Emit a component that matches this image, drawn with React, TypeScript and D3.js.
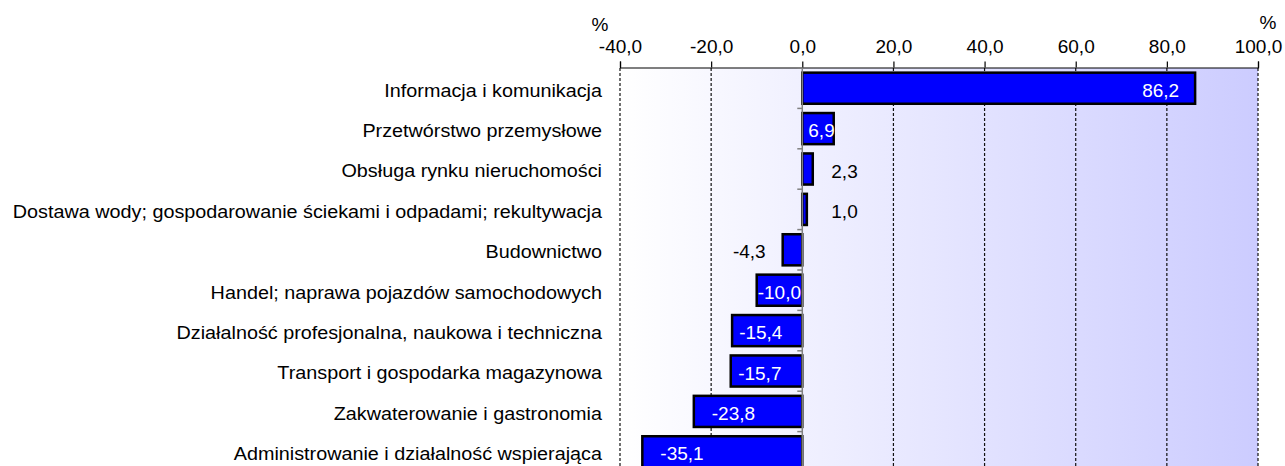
import React, { useRef, useEffect } from "react";
import * as d3 from "d3";

// categories and values (%)
const categories = [
  "Informacja i komunikacja",
  "Przetwórstwo przemysłowe",
  "Obsługa rynku nieruchomości",
  "Dostawa wody; gospodarowanie ściekami i odpadami; rekultywacja",
  "Budownictwo",
  "Handel; naprawa pojazdów samochodowych",
  "Działalność profesjonalna, naukowa i techniczna",
  "Transport i gospodarka magazynowa",
  "Zakwaterowanie i gastronomia",
  "Administrowanie i działalność wspierająca",
];
const values = [86.2, 6.9, 2.3, 1.0, -4.3, -10.0, -15.4, -15.7, -23.8, -35.1];
const tickValues = [-40, -20, 0, 20, 40, 60, 80, 100];

const W = 1285;
const H = 466;
const FONT = "'Liberation Sans', Arial, sans-serif";

const fmt = (v: number) => v.toFixed(1).replace(".", ",");

function App() {
  const svgRef = useRef<SVGSVGElement>(null);

  useEffect(() => {
    const svg = d3.select(svgRef.current);
    svg.selectAll("*").remove();

    const x = d3.scaleLinear().domain([-40, 100]).range([620, 1258]);
    const y = d3
      .scaleBand()
      .domain(categories)
      .range([68, 472])
      .paddingInner(0.23)
      .paddingOuter(0.115);

    const [x0, x1] = x.range();
    const [y0, y1] = y.range();

    // background gradient
    const grad = svg
      .append("defs")
      .append("linearGradient")
      .attr("id", "bg")
      .attr("x1", "0%")
      .attr("x2", "100%")
      .attr("y1", "0%")
      .attr("y2", "0%");
    grad.append("stop").attr("offset", "0%").attr("stop-color", "#ffffff");
    grad.append("stop").attr("offset", "100%").attr("stop-color", "#ccccff");

    svg
      .append("rect")
      .attr("x", x0)
      .attr("y", y0)
      .attr("width", x1 - x0)
      .attr("height", y1 - y0)
      .attr("fill", "url(#bg)");

    // dashed grid
    svg
      .selectAll(".grid")
      .data(tickValues.filter((t) => t !== 0))
      .join("line")
      .attr("class", "grid")
      .attr("x1", (d) => x(d))
      .attr("x2", (d) => x(d))
      .attr("y1", y0)
      .attr("y2", y1)
      .attr("stroke", "#111")
      .attr("stroke-width", 1.2)
      .attr("stroke-dasharray", "3,2");

    // top axis
    const xAxis = d3
      .axisTop(x)
      .tickValues(tickValues)
      .tickSize(6)
      .tickFormat((d) => fmt(d as number));
    const ax = svg
      .append("g")
      .attr("transform", `translate(0,${y0 - 0.5})`)
      .call(xAxis);
    ax.select(".domain").attr("stroke", "#000").attr("stroke-width", 1.2);
    ax.selectAll(".tick line").attr("stroke", "#000").attr("stroke-width", 1.2);
    ax.selectAll(".tick text")
      .attr("font-family", FONT)
      .attr("font-size", 19)
      .attr("fill", "#000")
      .attr("y", -15)
      .attr("dy", 0);

    // percent units
    svg
      .append("text")
      .attr("x", 600)
      .attr("y", 31)
      .attr("text-anchor", "middle")
      .attr("font-family", FONT)
      .attr("font-size", 19)
      .text("%");
    svg
      .append("text")
      .attr("x", 1268)
      .attr("y", 29)
      .attr("text-anchor", "middle")
      .attr("font-family", FONT)
      .attr("font-size", 19)
      .text("%");

    // bars
    svg
      .selectAll(".bar")
      .data(values)
      .join("rect")
      .attr("class", "bar")
      .attr("x", (v) => x(Math.min(0, v)))
      .attr("y", (_, i) => y(categories[i])!)
      .attr("width", (v) => Math.abs(x(v) - x(0)))
      .attr("height", y.bandwidth())
      .attr("fill", "#0000ff")
      .attr("stroke", "#000")
      .attr("stroke-width", 2.5);

    // zero (category) axis with ticks between categories
    svg
      .append("line")
      .attr("x1", x(0))
      .attr("x2", x(0))
      .attr("y1", y0)
      .attr("y2", y1)
      .attr("stroke", "#808080")
      .attr("stroke-width", 1.5);
    svg
      .selectAll(".ctick")
      .data(d3.range(categories.length + 1))
      .join("line")
      .attr("class", "ctick")
      .attr("x1", x(0) - 5)
      .attr("x2", x(0))
      .attr("y1", (i) => y0 + i * y.step())
      .attr("y2", (i) => y0 + i * y.step())
      .attr("stroke", "#808080")
      .attr("stroke-width", 1.5);

    // category labels (slightly wide, like the original rendering)
    svg
      .selectAll(".cat")
      .data(categories)
      .join("text")
      .attr("class", "cat")
      .attr(
        "transform",
        (d) => `translate(602,${y(d)! + y.bandwidth() / 2}) scale(1.07,1)`
      )
      .attr("dy", "0.45em")
      .attr("text-anchor", "end")
      .attr("font-family", FONT)
      .attr("font-size", 18.5)
      .attr("fill", "#000")
      .text((d) => d);

    // value labels
    const labelPos = (v: number) => {
      if (v >= 20) return { x: x(v) - 16, anchor: "end", fill: "#fff" };
      if (v >= 5) return { x: x(v) + 1, anchor: "end", fill: "#fff" };
      if (v >= 0) return { x: x(0) + 29, anchor: "start", fill: "#000" };
      if (v > -5) return { x: x(v) - 17, anchor: "end", fill: "#000" };
      const pad = Math.max(1, Math.min(18, (Math.abs(v) - 10) * 1.3));
      return { x: x(v) + pad, anchor: "start", fill: "#fff" };
    };
    svg
      .selectAll(".val")
      .data(values)
      .join("text")
      .attr("class", "val")
      .attr("x", (v) => labelPos(v).x)
      .attr("y", (_, i) => y(categories[i])! + y.bandwidth() / 2)
      .attr("dy", "0.45em")
      .attr("text-anchor", (v) => labelPos(v).anchor)
      .attr("fill", (v) => labelPos(v).fill)
      .attr("font-family", FONT)
      .attr("font-size", 19)
      .text((v) => fmt(v));
  }, []);

  return (
    <svg
      ref={svgRef}
      width={W}
      height={H}
      style={{ position: "absolute", left: 0, top: 0, background: "#fff" }}
    />
  );
}

export default App;
